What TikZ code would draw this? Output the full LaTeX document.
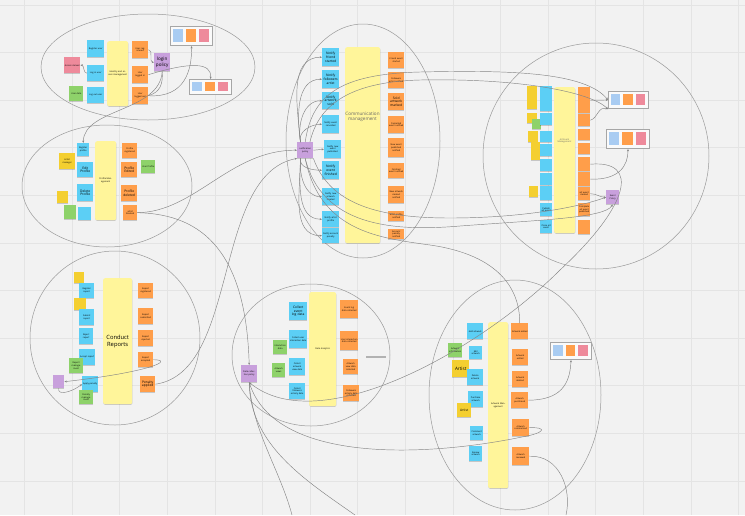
\documentclass[tikz,border=0pt]{standalone}
\usepackage{fontspec}
\setmainfont{Open Sans}
\usetikzlibrary{arrows.meta,shadows}
\definecolor{bgc}{HTML}{F2F2F2}
\definecolor{gridc}{HTML}{E4E4E4}
\definecolor{sblue}{HTML}{5CCFF5}
\definecolor{sorange}{HTML}{FF9E4A}
\definecolor{syellow}{HTML}{FFF59A}
\definecolor{sgold}{HTML}{F4CF30}
\definecolor{sgreen}{HTML}{8ED26A}
\definecolor{spink}{HTML}{EE8A9B}
\definecolor{spurple}{HTML}{C8A0DC}
\definecolor{lblue}{HTML}{A9CCF2}
\definecolor{linec}{HTML}{858585}
\definecolor{ellc}{HTML}{9A9A9A}
\newcommand{\fzA}{\fontsize{2.2}{2.6}\selectfont}
\newcommand{\fzB}{\fontsize{3.3}{3.8}\selectfont}
\newcommand{\fzC}{\fontsize{4.6}{5.2}\selectfont}
\newcommand{\fzD}{\fontsize{5.8}{6.6}\selectfont}
\newcommand{\mkstk}[7]{%
  \pgfmathsetmacro{\stkw}{#5-#3}\pgfmathsetmacro{\stkh}{#6-#4}\pgfmathsetmacro{\stktw}{max(#5-#3-1.2,1)}%
  \node[#2, anchor=north west, minimum width=\stkw pt, minimum height=\stkh pt, text width=\stktw pt] (#1) at (#3,#4) {#7};}
\newcommand{\mkbox}[5]{%
  \pgfmathsetmacro{\bxw}{#4-#2}\pgfmathsetmacro{\bxh}{#5-#3}%
  \node[grbox, anchor=north west, minimum width=\bxw pt, minimum height=\bxh pt] (#1) at (#2,#3) {};
  \pgfmathsetmacro{\sqw}{(#4-#2-12)/3}\pgfmathsetmacro{\sqh}{#5-#3-5.5}%
  \pgfmathsetmacro{\sqa}{#2+3}\pgfmathsetmacro{\sqb}{#2+6+\sqw}\pgfmathsetmacro{\sqc}{#2+9+2*\sqw}\pgfmathsetmacro{\sqy}{#3+2.75}%
  \fill[lblue] (\sqa,\sqy) rectangle ++(\sqw,\sqh);
  \fill[sorange] (\sqb,\sqy) rectangle ++(\sqw,\sqh);
  \fill[spink] (\sqc,\sqy) rectangle ++(\sqw,\sqh);}
\begin{document}
\begin{tikzpicture}[x=1pt,y=-1pt,
  stk/.style={draw=none, inner sep=0.4pt, align=center, font=\fzA,
    drop shadow={shadow xshift=0.2pt, shadow yshift=-0.7pt, opacity=0.18, fill=black}},
  stblue/.style={stk, fill=sblue},
  storange/.style={stk, fill=sorange},
  styellow/.style={stk, fill=syellow, rounded corners=2pt, drop shadow={opacity=0}},
  stgold/.style={stk, fill=sgold},
  stgreen/.style={stk, fill=sgreen},
  stpink/.style={stk, fill=spink},
  stpurple/.style={stk, fill=spurple},
  stbar/.style={inner sep=0pt, fill=black!30},
  grbox/.style={draw=black!35, line width=1pt, fill=white!60!bgc, inner sep=0pt},
  ell/.style={draw=ellc, line width=0.5pt},
  conn/.style={draw=linec, line width=0.45pt},
  arr/.style={-{Stealth[length=2.4pt,width=2pt]}},
  lbl/.style={align=center, inner sep=0pt, text=black!60}]
\fill[bgc] (0,0) rectangle (745,515);
\useasboundingbox (0,0) rectangle (745,515);
\foreach \i in {0,...,15} \draw[gridc, line width=0.5pt] ({24.4+47.6*\i},0) -- ({24.4+47.6*\i},515);
\foreach \j in {0,...,10} \draw[gridc, line width=0.5pt] (0,{4.8+47.6*\j}) -- (745,{4.8+47.6*\j});

% ---------- ellipses ----------
\draw[ell] (148,67) ellipse [x radius=107, y radius=53];
\draw[ell] (107,186) ellipse [x radius=85, y radius=61];
\draw[ell] (363,141) ellipse [x radius=77, y radius=117];
\draw[ell] (596,156) ellipse [x radius=113, y radius=113];
\draw[ell] (115,338) ellipse [x radius=85, y radius=87];
\draw[ell] (311,355) ellipse [x radius=79, y radius=71];
\draw[ell] (515,395) ellipse [x radius=86, y radius=115];

% ---------- region 1: identity and access ----------
\mkstk{a_pink}{stpink}{64}{57}{80}{73}{Access denied}
\mkstk{a_b1}{stblue}{87}{40}{104}{57}{Register user}
\mkstk{a_b2}{stblue}{87}{65}{104}{81}{Log in user}
\mkstk{a_b3}{stblue}{87}{87}{104}{103}{Log out user}
\mkstk{a_g}{stgreen}{69}{86}{83}{101}{User data}
\mkstk{a_y}{styellow}{107}{41}{128}{106}{Identity and access management}
\mkstk{a_o1}{storange}{132}{41}{148}{58}{User registered}
\mkstk{a_o2}{storange}{132}{66}{148}{83}{User logged in}
\mkstk{a_o3}{storange}{132}{87}{148}{104}{User logged out}
\mkstk{a_p}{stpurple,font=\fzC}{154}{53}{170}{71}{login policy}
\mkbox{a_box1}{170}{26}{212}{45}
\mkbox{a_box2}{189}{79}{231}{94}

% ---------- region 2: profile management ----------
\mkstk{b_reg}{stblue}{77}{143}{89}{156}{Register profile}
\mkstk{b_art}{stgold}{59}{153}{75}{169}{Artist manager}
\mkstk{b_edit}{stblue,font=\fzB}{77}{162}{93}{177}{Edit Profile}
\mkstk{b_del}{stblue,font=\fzB}{77}{184}{93}{201}{Delete Profile}
\mkstk{b_ys}{stgold}{57}{191}{68}{203}{}
\mkstk{b_g}{stgreen}{64}{205}{76}{219}{}
\mkstk{b_b4}{stblue}{78}{207}{91}{220}{}
\mkstk{b_y}{styellow}{95}{141}{116}{220}{Profile Management}
\mkstk{b_o1}{storange}{122}{143}{137}{158}{Profile registered}
\mkstk{b_o2}{storange,font=\fzB}{121}{162}{137}{177}{Profile Edited}
\mkstk{b_gr}{stgreen}{141}{160}{155}{173}{User Profile}
\mkstk{b_o3}{storange,font=\fzB}{121}{185}{137}{201}{Profile deleted}
\mkstk{b_o4}{storange}{123}{205}{137}{220}{artist blocked}

% ---------- region 3: communication ----------
\mkstk{c_b1}{stblue,font=\fzB}{322}{48}{339}{66}{Notify friend started}
\mkstk{c_b2}{stblue,font=\fzB}{322}{70}{339}{88}{Notify followers artist}
\mkstk{c_b3}{stblue,font=\fzB}{322}{92}{339}{109}{Notify artwork sold}
\mkstk{c_b4}{stblue}{322}{115}{339}{133}{Notify event cancelled}
\mkstk{c_b5}{stblue}{324}{140}{341}{158}{Notify new event published}
\mkstk{c_b6}{stblue,font=\fzB}{322}{161}{339}{179}{Notify event finished}
\mkstk{c_b7}{stblue}{322}{188}{339}{205}{Notify new artwork created}
\mkstk{c_b8}{stblue}{322}{211}{339}{227}{Notify artist profile}
\mkstk{c_b9}{stblue}{322}{228}{339}{243}{Notify account penalty}
\mkstk{c_y}{styellow}{345}{47}{380}{243}{}
\node[lbl, font=\fzC] (c_lab) at (362.5,117) {Communication\\management};
\mkstk{c_o1}{storange}{388}{52}{404}{68}{Friend event started}
\mkstk{c_o2}{storange}{388}{72}{404}{88}{Followers artist notified}
\mkstk{c_o3}{storange,font=\fzB}{388}{93}{404}{110}{Sold artwork marked}
\mkstk{c_o4}{storange}{388}{116}{404}{133}{Cancelled event notified}
\mkstk{c_o5}{storange}{388}{138}{404}{157}{New event published notified}
\mkstk{c_o6}{storange}{388}{163}{404}{178}{Finished event notified}
\mkstk{c_o7}{storange}{388}{186}{404}{203}{New artwork created notified}
\mkstk{c_o8}{storange}{388}{211}{404}{221}{artist profile notified}
\mkstk{c_o9}{storange}{388}{229}{404}{239}{Account penalty notified}
\mkstk{c_pol}{stpurple}{297}{142}{313}{158}{notification policy}

% ---------- region 4: art event ----------
\mkstk{d_y1}{stgold}{527}{86}{537}{97}{}
\mkstk{d_y2}{stgold}{527}{97}{537}{109}{}
\mkstk{d_y3}{stgold}{527}{113}{537}{123}{}
\mkstk{d_y4}{stgold}{528}{131}{538}{142}{}
\mkstk{d_y5}{stgold}{531}{142}{540}{160}{}
\mkstk{d_y6}{stgold}{529}{186}{538}{197}{}
\mkstk{d_g}{stgreen}{532}{119}{541}{129}{}
\mkstk{d_b1}{stblue}{540}{86}{552}{111}{}
\mkstk{d_b2}{stblue}{540}{113}{552}{125}{}
\mkstk{d_b3}{stblue}{540}{131}{552}{142}{}
\mkstk{d_b4}{stblue}{540}{144}{552}{156}{}
\mkstk{d_b5}{stblue}{540}{159}{552}{171}{}
\mkstk{d_b6}{stblue}{540}{173}{552}{185}{}
\mkstk{d_b7}{stblue}{540}{186}{552}{200}{}
\mkstk{d_b8}{stblue}{540}{203}{552}{216}{Publish art event}
\mkstk{d_b9}{stblue}{540}{220}{552}{233}{Close art event}
\mkstk{d_y}{styellow}{554}{87}{575}{233}{}
\node[lbl, font=\fzA] (d_lab) at (564.5,141) {Art Event\\Management};
\mkstk{d_o1}{storange}{578}{87}{590}{113}{}
\mkstk{d_o2}{storange}{578}{114}{590}{126}{}
\mkstk{d_o3}{storange}{578}{129}{590}{140}{}
\mkstk{d_o4}{storange}{578}{143}{590}{154}{}
\mkstk{d_o5}{storange}{578}{157}{590}{171}{}
\mkstk{d_o6}{storange}{578}{172}{590}{186}{}
\mkstk{d_o7}{storange}{578}{187}{590}{200}{art event created}
\mkstk{d_o8}{storange}{578}{203}{590}{216}{Complete art event published}
\mkstk{d_o9}{storange}{578}{220}{590}{234}{}
\mkbox{d_box1}{608}{91}{648}{108}
\mkbox{d_box2}{606}{129}{649}{148}
\mkstk{d_pol}{stpurple,font=\fzA}{606}{190}{619}{204}{Event Policy}

% ---------- region 5: conduct reports ----------
\mkstk{e_y1}{stgold}{74}{272}{84}{283}{}
\mkstk{e_reg}{stblue}{79}{283}{94}{298}{Register report}
\mkstk{e_y2}{stgold}{74}{298}{86}{310}{}
\mkstk{e_sub}{stblue}{79}{309}{94}{325}{Submit report}
\mkstk{e_rej}{stblue}{79}{328}{93}{344}{Reject report}
\mkstk{e_b4}{stblue}{79}{349}{95}{365}{Accept report}
\mkstk{e_g1}{stgreen}{69}{358}{83}{373}{Report management}
\mkstk{e_p}{stpurple}{53}{375}{64}{388}{}
\mkstk{e_app}{stblue}{82}{376}{98}{392}{Apply penalty}
\mkstk{e_g2}{stgreen}{79}{390}{93}{404}{Penalty management}
\mkstk{e_y}{styellow,font=\fzD}{103}{278}{132}{404}{Conduct Reports}
\mkstk{e_o1}{storange}{138}{283}{153}{298}{Report registered}
\mkstk{e_o2}{storange}{138}{308}{153}{324}{Report submitted}
\mkstk{e_o3}{storange}{138}{330}{153}{346}{Report rejected}
\mkstk{e_o4}{storange}{138}{352}{153}{367}{Report accepted}
\mkstk{e_pen}{storange,font=\fzB}{140}{376}{155}{392}{Penalty applied}

% ---------- region 6: data analytics ----------
\mkstk{f_b1}{stblue,font=\fzB}{289}{302}{307}{320}{Collect event log data}
\mkstk{f_b2}{stblue}{289}{330}{307}{348}{Collect user interaction data}
\mkstk{f_b3}{stblue}{289}{358}{305}{375}{Collect artwork view data}
\mkstk{f_b4}{stblue}{289}{383}{305}{399}{Collect followers activity data}
\mkstk{f_g1}{stgreen}{273}{340}{287}{354}{Interaction data}
\mkstk{f_g2}{stgreen}{272}{363}{285}{377}{Artwork views}
\mkstk{f_y}{styellow}{309}{292}{336}{406}{Data Analytics}
\mkstk{f_o1}{storange}{340}{300}{358}{318}{Event log data collected}
\mkstk{f_o2}{storange}{340}{331}{358}{350}{User interaction data collected}
\mkstk{f_o3}{storange}{343}{359}{358}{374}{Artwork view data collected}
\mkstk{f_o4}{storange}{343}{385}{359}{401}{Followers activity data collected}
\node[stbar, anchor=north west, minimum width=20pt, minimum height=2.5pt] (f_bar) at (366,355.5) {};
\mkstk{f_pol}{stpurple}{241}{365}{257}{382}{Data collection policy}

% ---------- region 7: artwork management ----------
\mkstk{g_b1}{stblue}{467}{323}{483}{339}{Add artwork}
\mkstk{g_b2}{stblue}{469}{346}{482}{359}{Edit artwork}
\mkstk{g_g}{stgreen}{448}{343}{462}{357}{Artwork information}
\mkstk{g_art1}{stgold,font=\fzC}{452}{360}{469}{377}{Artist}
\mkstk{g_b3}{stblue}{467}{369}{483}{385}{Delete artwork}
\mkstk{g_b4}{stblue}{468}{391}{483}{407}{Purchase artwork}
\mkstk{g_art2}{stgold,font=\fzB}{457}{403}{471}{417}{Artist}
\mkstk{g_b5}{stblue}{470}{426}{483}{440}{Comment artwork}
\mkstk{g_b6}{stblue}{469}{446}{482}{461}{Review artwork}
\mkstk{g_y}{styellow}{488}{322}{508}{488}{Artwork Management}
\mkstk{g_o1}{storange}{511}{323}{528}{339}{Artwork added}
\mkstk{g_o2}{storange}{512}{349}{528}{365}{Artwork edited}
\mkstk{g_o3}{storange}{512}{371}{528}{387}{Artwork deleted}
\mkstk{g_o4}{storange}{511}{392}{528}{408}{Artwork purchased}
\mkstk{g_o5}{storange}{512}{419}{529}{436}{Artwork commented}
\mkstk{g_o6}{storange}{512}{447}{529}{465}{Artwork reviewed}
\mkbox{g_box}{550}{342}{591}{359}

\coordinate (f_out1) at (355,515);
\coordinate (f_out2) at (292,515);
\coordinate (g_out) at (566,515);

% ---------- connectors ----------
% region 1
\draw[conn,arr] (a_b2.west) to[out=180,in=0] (a_pink.east);
\draw[conn,arr] (a_o1.east) to[out=0,in=180] (a_p.west);
\draw[conn,arr] (a_o2.east) .. controls (190,62) and (212,62) .. (a_box2.north);
\draw[conn,arr] (a_o3.east) .. controls (185,98) and (192,70) .. (a_box1.south);
\draw[conn] (a_p.south) .. controls (163,85) and (160,92) .. (a_o3.east);
\draw[conn,arr] (a_p.south) .. controls (160,112) and (84,108) .. (b_reg.north);
% region 2
\draw[conn,arr] (b_o4.east) .. controls (195,212) and (230,150) .. (c_pol.west);
\draw[conn,arr] (b_o4.east) .. controls (205,214) and (246,255) .. (f_pol.north);
% region 3
\foreach \t/\o in {c_b1/95,c_b2/98,c_b3/100,c_b4/105}
  \draw[conn,arr] (c_pol.120) to[out=\o,in=180] (\t.west);
\draw[conn,arr] (c_pol.east) -- (c_b5.west);
\foreach \t/\o in {c_b6/-100,c_b7/-95,c_b8/-92,c_b9/-90}
  \draw[conn,arr] (c_pol.-120) to[out=\o,in=180] (\t.west);
\draw[conn,arr] (c_pol.north) .. controls (312,95) and (340,74) .. (420,72) .. controls (510,70) and (585,72) .. (d_box1.west);
\draw[conn,arr] (c_pol.60) .. controls (318,108) and (345,82) .. (420,80) .. controls (520,78) and (590,92) .. (d_box1.south west);
\draw[conn,arr] (c_pol.south east) .. controls (330,205) and (380,218) .. (450,218) .. controls (530,218) and (585,205) .. (d_pol.west);
\draw[conn,arr] (c_pol.south) .. controls (322,225) and (390,232) .. (460,226) .. controls (540,220) and (605,218) .. (d_pol.south);
\draw[conn] (c_pol.south) .. controls (320,232) and (380,238) .. (430,245) .. controls (500,255) and (520,290) .. (g_o1.north);
% region 4
\draw[conn,arr] (d_o1.east) to[out=0,in=180] (d_box1.west);
\draw[conn,arr] (d_o2.east) .. controls (598,118) and (598,106) .. (d_box1.south west);
\draw[conn,arr] (d_o6.east) .. controls (620,180) and (628,165) .. (d_box2.south);
\draw[conn,arr] (d_o7.east) to[out=0,in=180] (d_pol.west);
\draw[conn,arr] (d_o5.east) .. controls (640,160) and (630,205) .. (560,270) .. controls (480,350) and (320,440) .. (f_pol.south);
% region 5
\draw[conn,arr] (e_o4.east) .. controls (175,360) and (150,372) .. (e_p.east);
\draw[conn,arr] (e_p.south) .. controls (57,396) and (72,392) .. (e_app.west);
\draw[conn,arr] (e_pen.east) .. controls (240,372) and (212,175) .. (c_pol.south west);
% region 6
\draw[conn] (f_pol.south) .. controls (250,445) and (305,480) .. (f_out1);
\draw[conn] (f_pol.south) .. controls (252,430) and (280,470) .. (f_out2);
% region 7
\draw[conn,arr] (g_o4.east) .. controls (560,400) and (570,385) .. (g_box.south);
\draw[conn] (g_o6.east) .. controls (560,455) and (572,490) .. (g_out);
\draw[conn,arr] (g_o5.east) .. controls (548,427) and (545,433) .. (522,437) .. controls (420,458) and (275,462) .. (f_pol.south);
\end{tikzpicture}
\end{document}
